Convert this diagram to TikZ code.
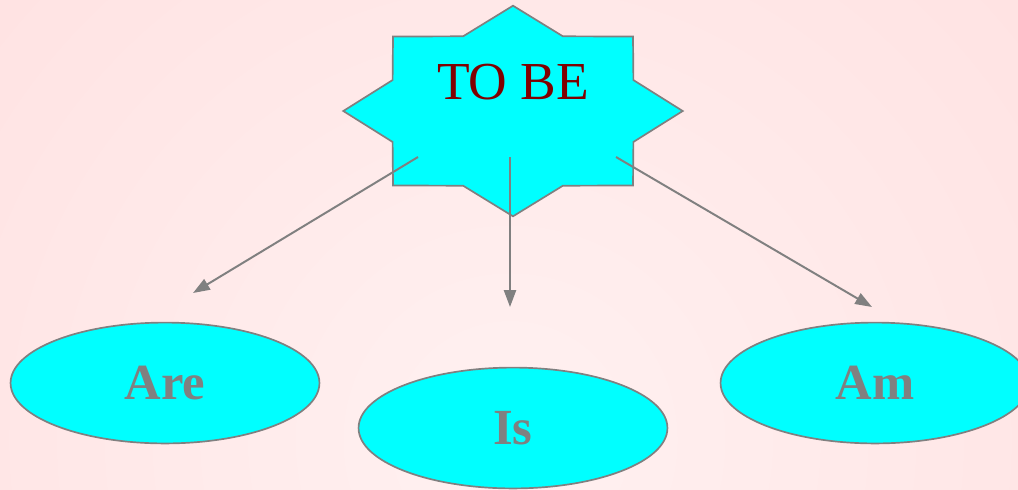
\documentclass[tikz,border=0pt]{standalone}
\usepackage{fontspec}
\setmainfont{Liberation Serif}
\usetikzlibrary{arrows.meta,positioning,shapes.geometric}
\definecolor{linegray}{RGB}{128,128,128}
\definecolor{aqua}{RGB}{0,255,255}
\definecolor{darkred}{RGB}{128,0,0}
\definecolor{pinkin}{RGB}{255,241,241}
\definecolor{pinkout}{RGB}{255,219,219}
\tikzset{
  verb/.style={ellipse,draw=linegray,line width=1.2pt,fill=aqua,minimum width=7.72cm,minimum height=3.02cm,inner sep=0pt,text=linegray,font=\bfseries\fontsize{36}{40}\selectfont},
  burst/.style={draw=linegray,line width=1.2pt,fill=aqua},
  title/.style={text=darkred,font=\fontsize{38}{42}\selectfont},
  arr/.style={-{Triangle[length=4.2mm,width=3mm]},draw=linegray,line width=1.4pt}
}

\begin{document}
\begin{tikzpicture}[x=0.025cm,y=-0.025cm]
  \useasboundingbox (0,0) rectangle (1018,489);
  \begin{scope}
    \clip (0,0) rectangle (1018,489);
    \shade[inner color=pinkin,outer color=pinkout] (510,440) circle (1050);
  \end{scope}
  % eight-pointed burst behind the title
  \coordinate (mid) at (513,111);
  \begin{scope}[shift={(mid)},xscale=169.7,yscale=105.3]
    \draw[burst] (90:1) \foreach \i in {1,...,15}{ -- ({90+22.5*\i}:{1-0.232*mod(\i,2)}) } -- cycle;
  \end{scope}
  \node[title] (tobe) at (513,82) {TO BE};
  \node[verb] (are) at (165,383) {Are};
  \node[verb] (is) at (513,428) {Is};
  \node[verb] (am) at (875,383) {Am};
  % arrow ends stop short of the ellipses
  \coordinate (fromL) at (418,157);
  \coordinate (fromM) at (510,157);
  \coordinate (fromR) at (616,157);
  \coordinate (areTip) at (193,293);
  \coordinate (isTip) at (510,307);
  \coordinate (amTip) at (872,307);
  \draw[arr] (fromL) -- (areTip);
  \draw[arr] (fromM) -- (isTip);
  \draw[arr] (fromR) -- (amTip);
\end{tikzpicture}
\end{document}
